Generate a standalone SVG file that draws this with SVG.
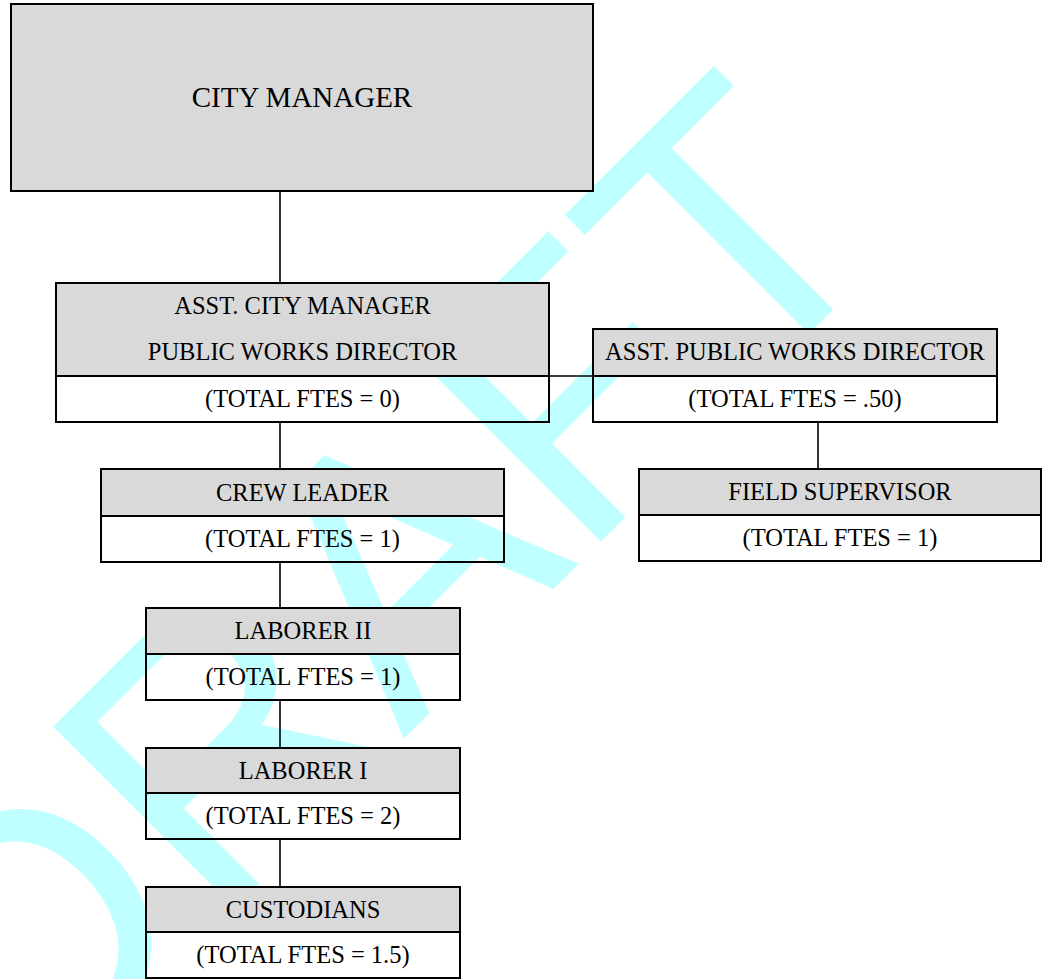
<svg xmlns="http://www.w3.org/2000/svg" width="1045" height="979" viewBox="0 0 1045 979">
<style>
.wm{font-family:"Liberation Sans",Arial,sans-serif;font-size:373px;fill:#C0FFFF}
.box{fill:none;stroke:#000;stroke-width:2}
.hd{fill:#D9D9D9;stroke:none}
.div{stroke:#000;stroke-width:2}
.t{font-size:24.5px;fill:#000;text-anchor:middle}
.big{font-size:29px}
.conn line{stroke:#000;stroke-width:1.6}
</style>
<rect x="0" y="0" width="1045" height="979" fill="#fff"/>
<text class="wm" transform="translate(22.4,1120.2) rotate(-45)" x="0" y="0">DRAFT</text>
<g class="conn" id="connectors">
<line x1="280" y1="191" x2="280" y2="283"/>
<line x1="280" y1="422" x2="280" y2="469"/>
<line x1="549" y1="376" x2="593" y2="376"/>
<line x1="818" y1="422" x2="818" y2="469"/>
<line x1="280" y1="562" x2="280" y2="608"/>
<line x1="280" y1="700" x2="280" y2="748"/>
<line x1="280" y1="839" x2="280" y2="887"/>
</g>
<g id="nodes" font-family="'Liberation Serif', 'Times New Roman', Times, 'DejaVu Serif', serif">
<g id="city-manager">
<rect class="hd" x="11" y="4" width="582" height="187"/>
<rect class="box" x="11" y="4" width="582" height="187"/>
<text class="t big" x="302" y="107">CITY MANAGER</text>
</g>
<g id="asst-city-manager">
<rect class="hd" x="56" y="283" width="493" height="93"/>
<rect class="box" x="56" y="283" width="493" height="139"/>
<line class="div" x1="56" y1="376" x2="549" y2="376"/>
<text class="t" x="302.5" y="314">ASST. CITY MANAGER</text>
<text class="t" x="302.5" y="360">PUBLIC WORKS DIRECTOR</text>
<text class="t" x="302.5" y="407">(TOTAL FTES = 0)</text>
</g>
<g id="asst-public-works-director">
<rect class="hd" x="593" y="329" width="404" height="47"/>
<rect class="box" x="593" y="329" width="404" height="93"/>
<line class="div" x1="593" y1="376" x2="997" y2="376"/>
<text class="t" x="795" y="360">ASST. PUBLIC WORKS DIRECTOR</text>
<text class="t" x="795" y="407">(TOTAL FTES = .50)</text>
</g>
<g id="crew-leader">
<rect class="hd" x="101" y="469" width="403" height="47"/>
<rect class="box" x="101" y="469" width="403" height="93"/>
<line class="div" x1="101" y1="516" x2="504" y2="516"/>
<text class="t" x="302.5" y="501">CREW LEADER</text>
<text class="t" x="302.5" y="547">(TOTAL FTES = 1)</text>
</g>
<g id="field-supervisor">
<rect class="hd" x="639" y="469" width="402" height="46"/>
<rect class="box" x="639" y="469" width="402" height="92"/>
<line class="div" x1="639" y1="515" x2="1041" y2="515"/>
<text class="t" x="840" y="500">FIELD SUPERVISOR</text>
<text class="t" x="840" y="546">(TOTAL FTES = 1)</text>
</g>
<g id="laborer-ii">
<rect class="hd" x="146" y="608" width="314" height="46"/>
<rect class="box" x="146" y="608" width="314" height="92"/>
<line class="div" x1="146" y1="654" x2="460" y2="654"/>
<text class="t" x="303" y="639">LABORER II</text>
<text class="t" x="303" y="685">(TOTAL FTES = 1)</text>
</g>
<g id="laborer-i">
<rect class="hd" x="146" y="748" width="314" height="45"/>
<rect class="box" x="146" y="748" width="314" height="91"/>
<line class="div" x1="146" y1="793" x2="460" y2="793"/>
<text class="t" x="303" y="778.5">LABORER I</text>
<text class="t" x="303" y="824">(TOTAL FTES = 2)</text>
</g>
<g id="custodians">
<rect class="hd" x="146" y="887" width="314" height="45"/>
<rect class="box" x="146" y="887" width="314" height="91"/>
<line class="div" x1="146" y1="932" x2="460" y2="932"/>
<text class="t" x="303" y="917.5">CUSTODIANS</text>
<text class="t" x="303" y="963">(TOTAL FTES = 1.5)</text>
</g>
</g>
</svg>
